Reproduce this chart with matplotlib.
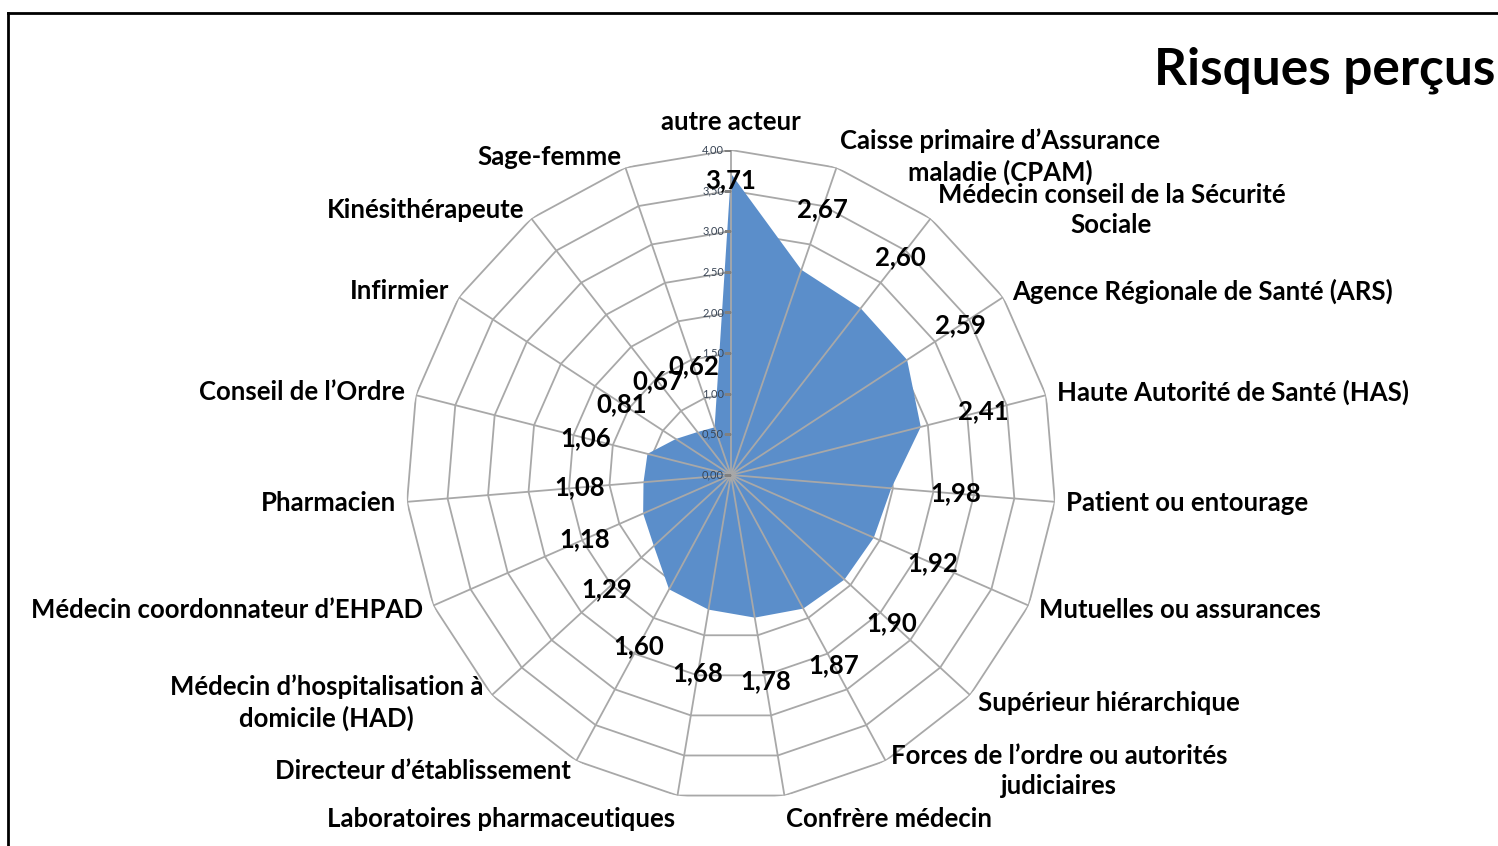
import matplotlib
matplotlib.use("Agg")
import matplotlib.pyplot as plt
import numpy as np
from matplotlib.lines import Line2D

plt.rcParams['font.family'] = ['Lato', 'DejaVu Sans']

# categories, clockwise from the top
categories = [
    "autre acteur",
    "Caisse primaire d\u2019Assurance\nmaladie (CPAM)",
    "M\u00e9decin conseil de la S\u00e9curit\u00e9\nSociale",
    "Agence R\u00e9gionale de Sant\u00e9 (ARS)",
    "Haute Autorit\u00e9 de Sant\u00e9 (HAS)",
    "Patient ou entourage",
    "Mutuelles ou assurances",
    "Sup\u00e9rieur hi\u00e9rarchique",
    "Forces de l\u2019ordre ou autorit\u00e9s\njudiciaires",
    "Confr\u00e8re m\u00e9decin",
    "Laboratoires pharmaceutiques",
    "Directeur d\u2019\u00e9tablissement",
    "M\u00e9decin d\u2019hospitalisation \u00e0\ndomicile (HAD)",
    "M\u00e9decin coordonnateur d\u2019EHPAD",
    "Pharmacien",
    "Conseil de l\u2019Ordre",
    "Infirmier",
    "Kin\u00e9sith\u00e9rapeute",
    "Sage-femme",
]
values = [3.71, 2.67, 2.60, 2.59, 2.41, 1.98, 1.92, 1.90, 1.87, 1.78,
          1.68, 1.60, 1.29, 1.18, 1.08, 1.06, 0.81, 0.67, 0.62]
rings = [0.0, 0.5, 1.0, 1.5, 2.0, 2.5, 3.0, 3.5, 4.0]
ring_labels = ["0,00", "0,50", "1,00", "1,50", "2,00", "2,50", "3,00", "3,50", "4,00"]

n = len(categories)
theta = np.linspace(0, 2 * np.pi, n, endpoint=False)
theta_c = np.append(theta, theta[0])
rmax = 4.0

fig = plt.figure(figsize=(14.98, 8.46), dpi=100)
ax = fig.add_axes([0.2710, 0.0544, 0.4339, 0.7683], projection='polar')
ax.set_theta_zero_location('N')
ax.set_theta_direction(-1)
ax.set_ylim(0, rmax)
ax.set_xticks([])
ax.set_yticks([])
ax.grid(False)
ax.spines['polar'].set_visible(False)
ax.patch.set_alpha(0)

grid_col = '#A8A8A8'
# ring polygons
for r in rings[1:]:
    ax.plot(theta_c, [r] * (n + 1), color=grid_col, lw=1.3, zorder=1)

# filled series
vals_c = np.append(values, values[0])
ax.fill(theta_c, vals_c, color='#5B8ECA', zorder=2, lw=0)

# spokes on top of fill
for t in theta:
    ax.plot([t, t], [0, rmax], color=grid_col, lw=1.3, zorder=3)

# radial scale on the top spoke
for r, lab in zip(rings, ring_labels):
    ax.plot([0], [r], marker=0, markersize=5, color='#808080', zorder=4)
    ax.annotate(lab, xy=(0, r), xytext=(-5, 0), textcoords='offset points',
                ha='right', va='center', fontsize=8, color='#3A4656', zorder=5)

# value labels, pushed outward from the data points
for t, v in zip(theta, values):
    rl = v + 0.79
    if rl > rmax:
        rl = v - 0.08
    ax.text(t, rl, f"{v:.2f}".replace('.', ','), ha='center', va='center',
            fontsize=18.5, fontweight='bold', color='black', zorder=6)

# category labels around the outer ring
for t, lab in zip(theta, categories):
    s, c = np.sin(t), np.cos(t)
    if s > 0.1:
        ha = 'left'
    elif s < -0.1:
        ha = 'right'
    else:
        ha = 'center'
    pad = 0.14
    if c > 0.97:
        va = 'bottom'
        pad = 0.2
    elif c < -0.97:
        va = 'top'
    else:
        va = 'center'
    ax.text(t, rmax + pad, lab, ha=ha, va=va, multialignment='center',
            fontsize=18.5, fontweight='bold', color='black', linespacing=1.3)

fig.text(0.998, 0.917, "Risques per\u00e7us", ha='right', va='center',
         fontsize=37, fontweight='bold', color='black')

# frame edges
fig.add_artist(Line2D([8 / 1498, 1], [1 - 13 / 846, 1 - 13 / 846],
                      transform=fig.transFigure, color='black', lw=2))
fig.add_artist(Line2D([8 / 1498, 8 / 1498], [0, 1 - 13 / 846],
                      transform=fig.transFigure, color='black', lw=2))

fig.savefig("out.png", dpi=100, facecolor='white')
